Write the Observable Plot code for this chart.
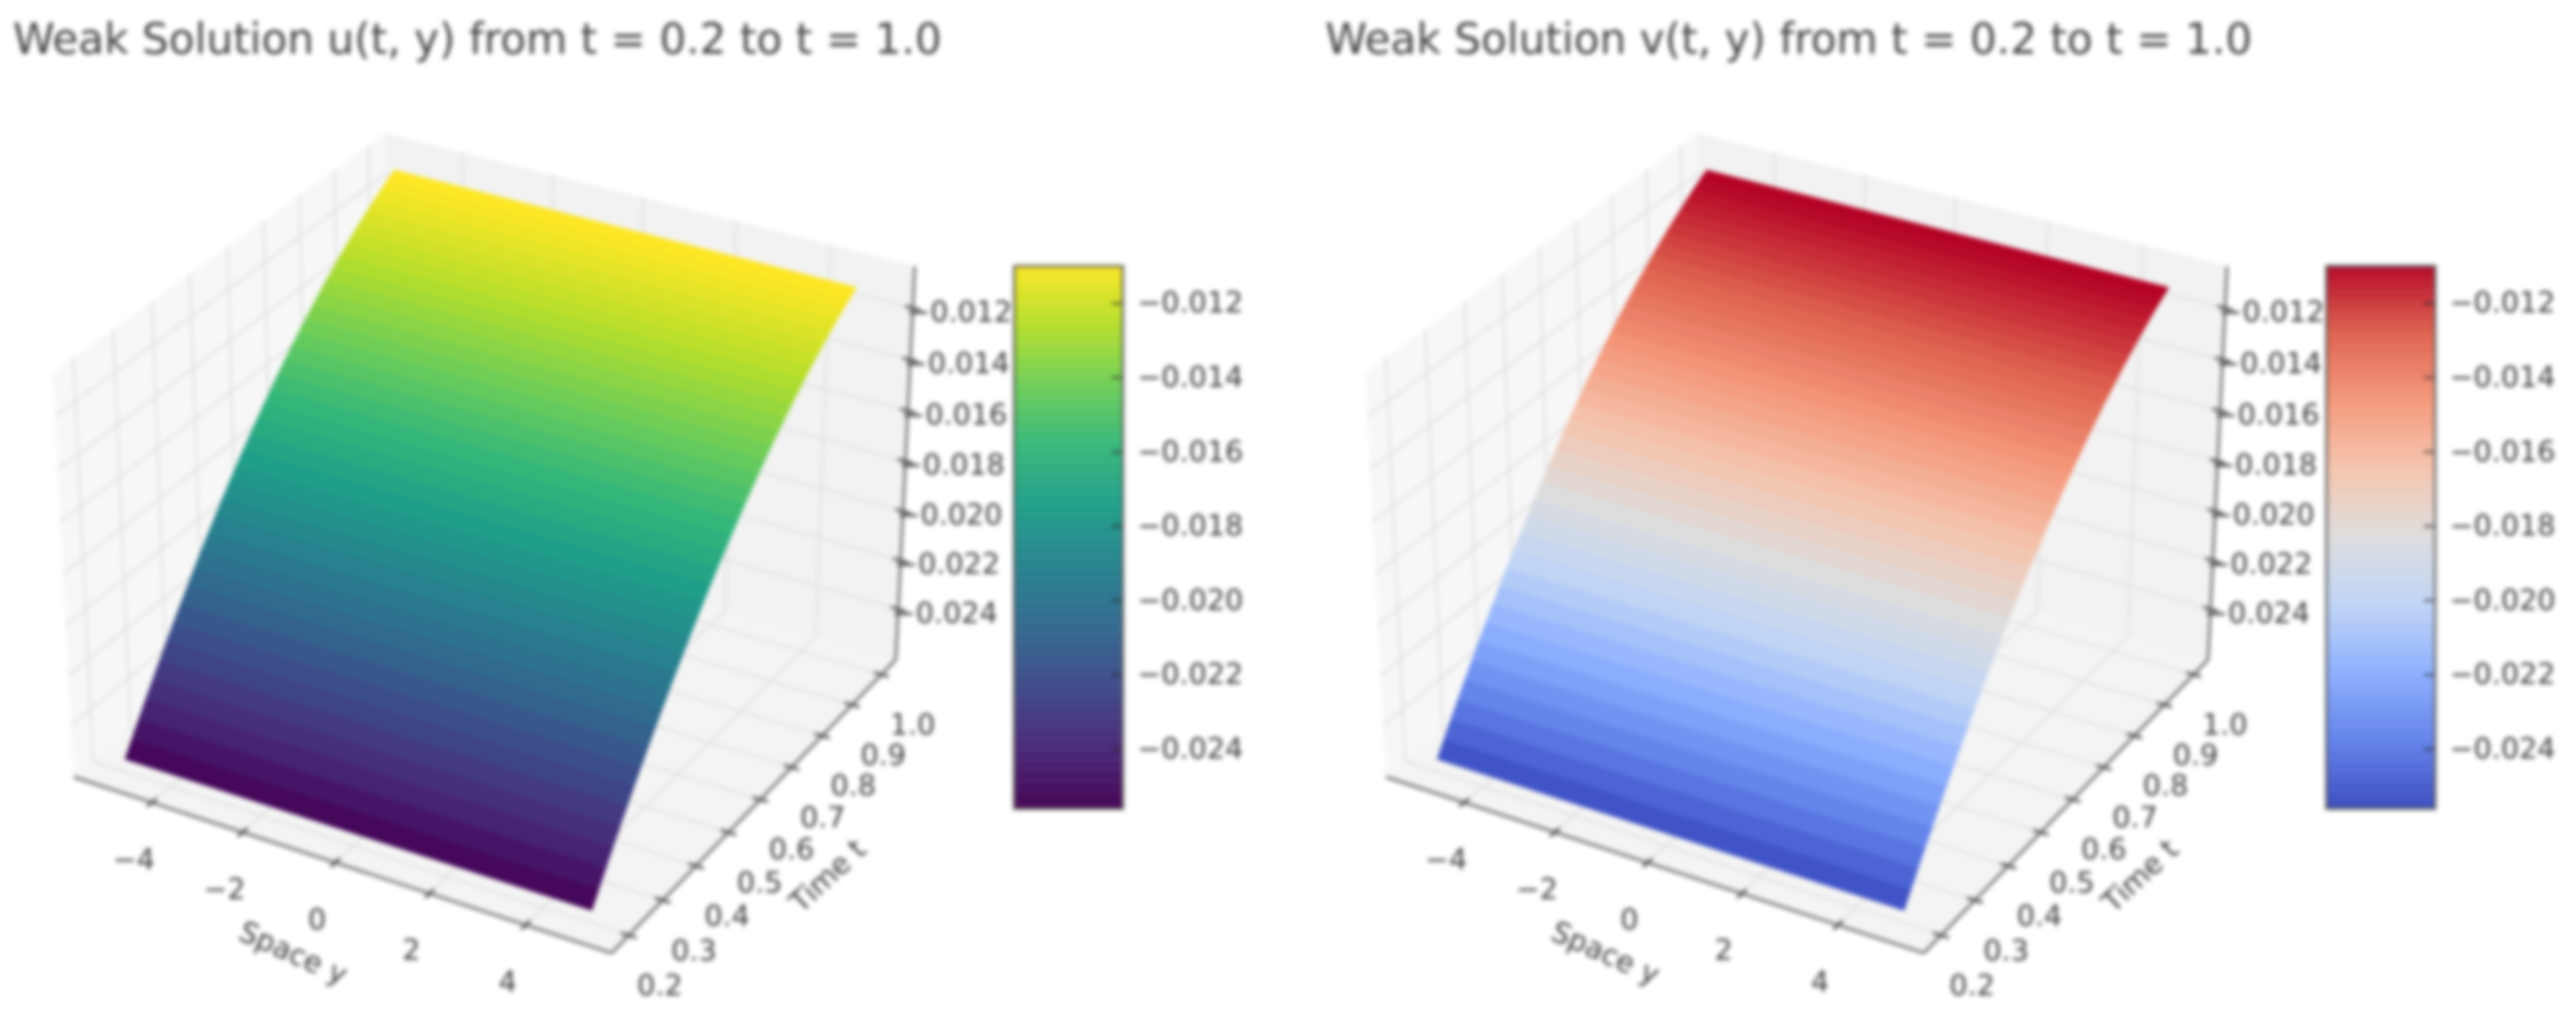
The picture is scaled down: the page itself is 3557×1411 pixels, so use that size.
<!DOCTYPE html>
<html><head><meta charset="utf-8">
<script src="https://cdn.jsdelivr.net/npm/d3@7"></script>
<script src="https://cdn.jsdelivr.net/npm/@observablehq/plot@0.6"></script>
<style>
html,body{margin:0;padding:0;background:#fff;width:3557px;height:1411px;overflow:hidden}
#wrap{position:relative;width:3557px;height:1411px;filter:blur(3.2px)}
.panel{position:absolute;top:0;height:1411px;width:1745px}
.title{position:absolute;left:18px;top:20px;font:58.3px "DejaVu Sans";color:#444;white-space:nowrap}
.main{position:absolute;left:0;top:110px}
.bar{position:absolute;left:1390px;top:300px}
</style></head><body><div id="wrap"></div>
<script>
// ---- data ----
const timeT = [0.20,0.22,0.24,0.26,0.28,0.30,0.32,0.34,0.36,0.38,0.40,0.42,0.44,0.46,0.48,0.50,0.52,0.54,0.56,0.58,0.60,0.62,0.64,0.66,0.68,0.70,0.72,0.74,0.76,0.78,0.80,0.82,0.84,0.86,0.88,0.90,0.92,0.94,0.96,0.98];
const valuesU = [-0.02560,-0.02503,-0.02447,-0.02392,-0.02338,-0.02285,-0.02233,-0.02182,-0.02132,-0.02083,-0.02035,-0.01988,-0.01942,-0.01897,-0.01853,-0.01810,-0.01768,-0.01727,-0.01687,-0.01649,-0.01611,-0.01574,-0.01538,-0.01503,-0.01470,-0.01437,-0.01405,-0.01375,-0.01345,-0.01316,-0.01289,-0.01262,-0.01236,-0.01212,-0.01188,-0.01166,-0.01144,-0.01123,-0.01104,-0.01085];
const valuesV = [-0.02560,-0.02503,-0.02447,-0.02392,-0.02338,-0.02285,-0.02233,-0.02182,-0.02132,-0.02083,-0.02035,-0.01988,-0.01942,-0.01897,-0.01853,-0.01810,-0.01768,-0.01727,-0.01687,-0.01649,-0.01611,-0.01574,-0.01538,-0.01503,-0.01470,-0.01437,-0.01405,-0.01375,-0.01345,-0.01316,-0.01289,-0.01262,-0.01236,-0.01212,-0.01188,-0.01166,-0.01144,-0.01123,-0.01104,-0.01085];
const spaceEnds = [-5, 5];
const spaceTicks = [-4,-2,0,2,4];
const timeTicks = [0.2,0.3,0.4,0.5,0.6,0.7,0.8,0.9,1.0];
const zTicks = [-0.024,-0.022,-0.020,-0.018,-0.016,-0.014,-0.012];
const barTicks = zTicks;
const viridisStops = ["#440154","#482878","#3e4989","#31688e","#26828e","#1f9e89","#35b779","#6ece58","#b5de2b","#fde725"];
const coolwarmStops = ["#3b4cc0","#6282ea","#8db0fe","#c0d4f5","#dddddd","#f5c4ad","#f4987a","#de604d","#b40426"];
const titles = ["Weak Solution u(t, y) from t = 0.2 to t = 1.0","Weak Solution v(t, y) from t = 0.2 to t = 1.0"];

// ---- axis limits and camera (matplotlib's default 3D view) ----
const xlim=[-5.75,5.75], tlim=[0.15,1.05], zlim=[-0.0261,-0.0104], barDomain=[-0.0256,-0.0110];
const elev=30*Math.PI/180, azim=-60*Math.PI/180, dist=10;
const boxA=0.6275, boxC=0.4706, sx=6774, sy=6749, ox=680, oy=721;
const FONT="DejaVu Sans", TXT="#3c3c3c", FS=39.5;
function project(x,t,z){
  const a=(x-(xlim[0]+xlim[1])/2)/((xlim[1]-xlim[0])/2)*boxA;
  const b=(t-(tlim[0]+tlim[1])/2)/((tlim[1]-tlim[0])/2)*boxA;
  const c=(z-(zlim[0]+zlim[1])/2)/((zlim[1]-zlim[0])/2)*boxC;
  const ce=Math.cos(elev),se=Math.sin(elev),ca=Math.cos(azim),sa=Math.sin(azim);
  const X=-sa*a+ca*b, Y=-se*ca*a-se*sa*b+ce*c, d=ce*ca*a+ce*sa*b+se*c, w=dist-d;
  return [ox+sx*X/w, oy-sy*Y/w];
}
function quad(A,B,C,D){ // edge A-B and edge D-C
  const pa=project(...A),pb=project(...B),pc=project(...C),pd=project(...D);
  return [{x1:pa[0],y1:pa[1],x2:pd[0],y2:pd[1]},{x1:pb[0],y1:pb[1],x2:pc[0],y2:pc[1]}];
}
function panel(index,values,colorOpts){
  const [x0,x1]=xlim,[t0,t1]=tlim,[z0,z1]=zlim;
  const paneL=quad([x0,t0,z0],[x0,t1,z0],[x0,t1,z1],[x0,t0,z1]);
  const paneB=quad([x0,t1,z0],[x1,t1,z0],[x1,t1,z1],[x0,t1,z1]);
  const paneF=quad([x0,t0,z0],[x1,t0,z0],[x1,t1,z0],[x0,t1,z0]);
  const grid=[];
  const poly=(id,pts)=>pts.forEach(p=>{const q=project(...p);grid.push({id,x:q[0],y:q[1]})});
  spaceTicks.forEach(v=>poly("x"+v,[[v,t0,z0],[v,t1,z0],[v,t1,z1]]));
  timeTicks.forEach(v=>poly("t"+v,[[x1,v,z0],[x0,v,z0],[x0,v,z1]]));
  zTicks.forEach(v=>poly("z"+v,[[x0,t0,v],[x0,t1,v],[x1,t1,v]]));
  const axes=[];
  const ax=(A,B)=>{const p=project(...A),q=project(...B);axes.push({x1:p[0],y1:p[1],x2:q[0],y2:q[1]})};
  ax([x0,t0,z0],[x1,t0,z0]); ax([x1,t0,z0],[x1,t1,z0]); ax([x1,t1,z0],[x1,t1,z1]);
  const ticks=[];
  const tk=(A,B)=>{const p=project(...A),q=project(...B);ticks.push({x1:p[0],y1:p[1],x2:q[0],y2:q[1]})};
  const dT=(t1-t0)*0.014,dX=(x1-x0)*0.014;
  spaceTicks.forEach(v=>tk([v,t0-dT,z0],[v,t0+dT,z0]));
  timeTicks.forEach(v=>tk([x1+dX,v,z0],[x1-dX,v,z0]));
  zTicks.forEach(v=>tk([x1+dX,t1,v],[x1-dX,t1,v]));
  const fmtMinus=v=>String(v).replace("-","\u2212");
  const lx=spaceTicks.map(v=>{const p=project(v,t0,z0);return{x:p[0]-25,y:p[1]+79,text:fmtMinus(v)}});
  const lt=timeTicks.map(v=>{const p=project(x1,v,z0);return{x:p[0]+43,y:p[1]+70,text:v.toFixed(1)}});
  const lz=zTicks.map(v=>{const p=project(x1,t1,v);return{x:p[0]-9,y:p[1]+6,text:d3.format(".3f")(v)}});
  const surf=[];
  for(let i=0;i<timeT.length-1;i++){
    spaceEnds.forEach(s=>{
      const p=project(s,timeT[i],values[i]),q=project(s,timeT[i+1],values[i+1]);
      surf.push({row:i,x1:p[0],y1:p[1],x2:q[0],y2:q[1],value:(values[i]+values[i+1])/2});
    });
  }
  const W=1420,H=1301;
  const paneOpts=(fill)=>({x1:"x1",y1:"y1",x2:"x2",y2:"y2",fill});
  const main=Plot.plot({
    width:W,height:H,margin:0,style:{background:"transparent"},
    x:{domain:[0,W],range:[0,W],axis:null},
    y:{domain:[110,1411],range:[0,H],axis:null},
    color:colorOpts,
    marks:[
      Plot.area(paneL,paneOpts("#f7f7f7")),
      Plot.area(paneB,paneOpts("#f2f2f2")),
      Plot.area(paneF,paneOpts("#f4f4f4")),
      Plot.line(grid,{x:"x",y:"y",z:"id",stroke:"#e2e2e2",strokeWidth:3}),
      Plot.link(axes,{x1:"x1",y1:"y1",x2:"x2",y2:"y2",stroke:"#666",strokeWidth:3.5}),
      Plot.link(ticks,{x1:"x1",y1:"y1",x2:"x2",y2:"y2",stroke:"#444",strokeWidth:3.5}),
      Plot.area(surf,{x1:"x1",y1:"y1",x2:"x2",y2:"y2",z:"row",fill:"value",stroke:"value",strokeWidth:1}),
      Plot.text(lx,{x:"x",y:"y",text:"text",fontSize:FS,fontFamily:FONT,fill:TXT}),
      Plot.text(lt,{x:"x",y:"y",text:"text",fontSize:FS,fontFamily:FONT,fill:TXT}),
      Plot.text(lz,{x:"x",y:"y",text:"text",fontSize:FS,fontFamily:FONT,fill:TXT,textAnchor:"start"}),
      Plot.text([{x:404,y:1316,text:"Space y"}],{x:"x",y:"y",text:"text",fontSize:40,fontFamily:FONT,fill:TXT,rotate:24}),
      Plot.text([{x:1143,y:1209,text:"Time t"}],{x:"x",y:"y",text:"text",fontSize:40,fontFamily:FONT,fill:TXT,rotate:-43})
    ]
  });
  main.setAttribute("class",main.getAttribute("class")+" main");
  // colour bar: its own Plot with its own scales and axis
  const step=(barDomain[1]-barDomain[0])/200;
  const levels=d3.range(200).map(i=>barDomain[0]+i*step);
  const bar=Plot.plot({
    width:340,height:830,marginLeft:10,marginRight:180,marginTop:67,marginBottom:14,
    style:{background:"transparent"},
    x:{domain:[0,1],axis:null},
    y:{domain:barDomain,axis:null},
    color:colorOpts,
    marks:[
      Plot.rect(levels,{x1:0,x2:1,y1:d=>d,y2:d=>d+step*1.05,fill:d=>d}),
      Plot.ruleY(barTicks,{x1:0.9,x2:1,stroke:"#222",strokeWidth:3,strokeOpacity:0.7}),
      Plot.frame({stroke:"#555",strokeWidth:4,strokeOpacity:0.8}),
      Plot.axisY({anchor:"right",ticks:barTicks,tickSize:0,tickPadding:20,tickFormat:d3.format(".3f"),fontSize:FS,fontFamily:FONT,fill:TXT,label:null,color:TXT})
    ]
  });
  bar.setAttribute("class",bar.getAttribute("class")+" bar");
  const div=document.createElement("div");
  div.className="panel";
  div.style.left=(index===0?0:1812)+"px";
  const t=document.createElement("div");t.className="title";t.textContent=titles[index];
  div.append(t,main,bar);
  document.getElementById("wrap").append(div);
}
const viridis={type:"linear",clamp:true,domain:d3.quantize(d3.interpolateNumber(barDomain[0],barDomain[1]),viridisStops.length),range:viridisStops};
const coolwarm={type:"linear",clamp:true,domain:d3.quantize(d3.interpolateNumber(barDomain[0],barDomain[1]),coolwarmStops.length),range:coolwarmStops};
panel(0,valuesU,viridis);
panel(1,valuesV,coolwarm);
</script></body></html>
